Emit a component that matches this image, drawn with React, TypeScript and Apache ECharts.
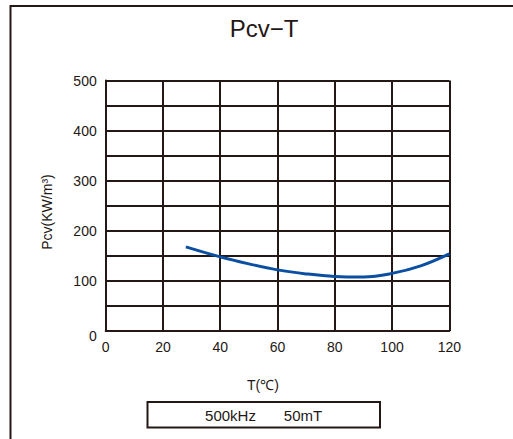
import React, { useEffect, useRef } from "react";
import * as echarts from "echarts";

const temps = [28, 40, 50, 60, 70, 80, 90, 100, 110, 120];
const pcv = [168, 148, 134, 122, 114, 109, 108, 115, 130, 154];
const xTicks = [0, 20, 40, 60, 80, 100, 120];
const title = "Pcv−T";
const yName = "Pcv(KW/m³)";
const xName = "T(℃)";
const freqText = "500kHz";
const fluxText = "50mT";

const FONT = "'Liberation Sans', Arial, Helvetica, sans-serif";
const INK = "#231815";

export default function App() {
  const ref = useRef<HTMLDivElement>(null);
  useEffect(() => {
    if (!ref.current) return;
    const chart = echarts.init(ref.current, null, { renderer: "svg" });
    const txt = (text: string, x: number, y: number, size: number, rot = 0) => ({
      type: "text",
      x,
      y,
      rotation: rot,
      style: {
        text,
        font: `${size}px ${FONT}`,
        fill: INK,
        textAlign: "center",
        textVerticalAlign: "middle",
      },
    });
    chart.setOption({
      animation: false,
      backgroundColor: "#ffffff",
      grid: { left: 105.7, right: 63.7, top: 80.5, bottom: 108 },
      xAxis: {
        type: "value",
        min: xTicks[0],
        max: xTicks[xTicks.length - 1],
        interval: 20,
        axisLine: { show: true, lineStyle: { color: INK, width: 2 } },
        axisTick: { show: false },
        axisLabel: { color: INK, fontSize: 14, fontFamily: FONT, margin: 9 },
        splitLine: { show: true, lineStyle: { color: INK, width: 2 } },
      },
      yAxis: {
        type: "value",
        min: 0,
        max: 500,
        interval: 50,
        axisLine: { show: true, lineStyle: { color: INK, width: 2 } },
        axisTick: { show: false },
        axisLabel: {
          color: INK,
          fontSize: 14,
          fontFamily: FONT,
          margin: 9,
          formatter: (v: number) =>
            v === 0 ? "{low|0}" : v % 100 === 0 ? String(v) : "",
          rich: {
            low: {
              color: INK,
              fontSize: 14,
              fontFamily: FONT,
              padding: [10, 0, 0, 0],
            },
          },
        },
        splitLine: { show: true, lineStyle: { color: INK, width: 2 } },
      },
      series: [
        {
          type: "line",
          data: temps.map((t, i) => [t, pcv[i]]),
          smooth: 0.4,
          showSymbol: false,
          lineStyle: { color: "#0b4fa3", width: 3 },
          z: 5,
        },
      ],
      graphic: [
        {
          type: "rect",
          shape: { x: 10.5, y: 6, width: 700, height: 700 },
          style: { fill: "none", stroke: INK, lineWidth: 2 },
          silent: true,
        },
        txt(title, 264, 28, 24),
        txt(yName, 47, 212, 14, Math.PI / 2),
        txt(xName, 263, 385, 14),
        {
          type: "rect",
          shape: { x: 147.5, y: 402, width: 232.5, height: 25.5 },
          style: { fill: "none", stroke: INK, lineWidth: 2 },
        },
        txt(freqText, 230.5, 415, 15),
        txt(fluxText, 303, 415, 15),
      ],
    });
    return () => chart.dispose();
  }, []);
  return (
    <div
      ref={ref}
      style={{ position: "fixed", left: 0, top: 0, width: 513, height: 439 }}
    />
  );
}
